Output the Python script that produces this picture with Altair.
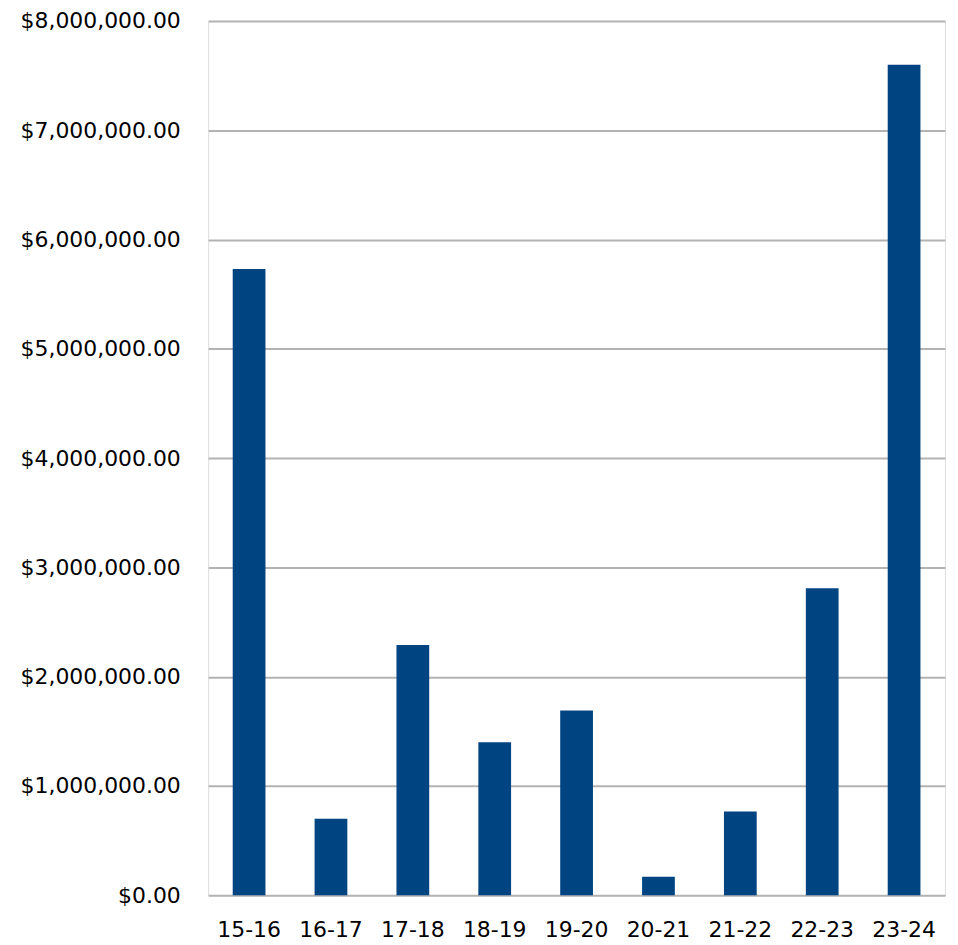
import altair as alt
import pandas as pd

years = ["15-16", "16-17", "17-18", "18-19", "19-20", "20-21", "21-22", "22-23", "23-24"]
amounts = [5730000, 700000, 2290000, 1400000, 1690000, 170000, 765000, 2810000, 7600000]

df = pd.DataFrame({"year": years, "amount": amounts})

FONT = "DejaVu Sans"

chart = alt.Chart(df).mark_bar(color="#004582").encode(
    x=alt.X("year:N", sort=years, title=None,
            scale=alt.Scale(paddingInner=0.6, paddingOuter=0.3),
            axis=alt.Axis(labelAngle=0, labelFontSize=22, labelFont=FONT, labelColor="#000000",
                          ticks=False, domain=False, labelPadding=24)),
    y=alt.Y("amount:Q", title=None,
            scale=alt.Scale(domain=[0, 8000000], nice=False),
            axis=alt.Axis(values=[i * 1000000 for i in range(9)], format="$,.2f",
                          labelFontSize=22, labelFont=FONT, labelColor="#000000",
                          ticks=False, domain=False, labelPadding=28,
                          gridColor="#b3b3b3", gridWidth=2)),
).properties(
    width=740, height=878,
    padding={"left": 12, "top": 0, "right": 5, "bottom": 5}
).configure_view(
    stroke="#b3b3b3", strokeWidth=2.5
).configure(background="white")

chart.save("out.html", embed_options={"renderer": "svg", "actions": False})
